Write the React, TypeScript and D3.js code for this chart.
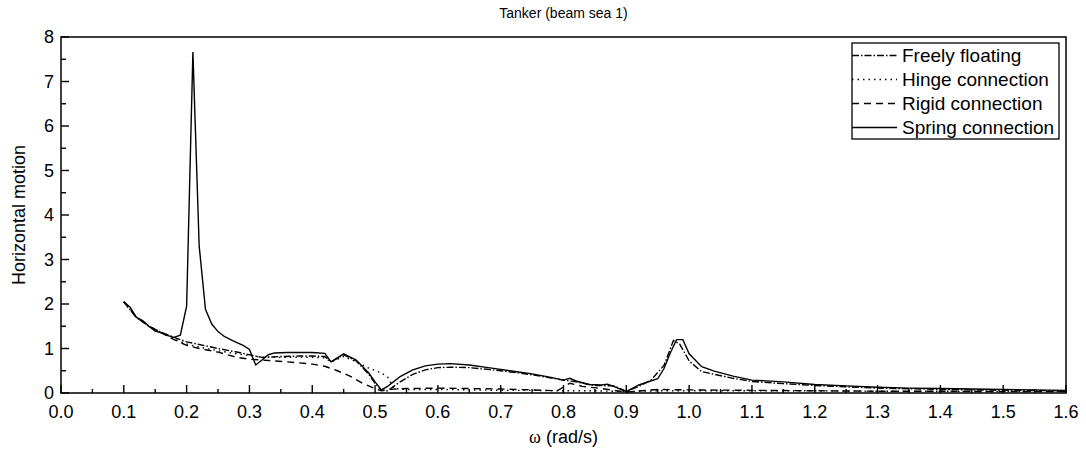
import React, { useRef, useEffect } from "react";
import * as d3 from "d3";

// Tanker (beam sea 1) - horizontal motion RAO
const freeW = [0.1, 0.12, 0.14, 0.16, 0.18, 0.2, 0.22, 0.25, 0.28, 0.3, 0.32, 0.35, 0.38, 0.4, 0.42, 0.43, 0.45, 0.47, 0.49, 0.5, 0.51, 0.52, 0.54, 0.56, 0.58, 0.6, 0.62, 0.65, 0.68, 0.7, 0.75, 0.8, 0.82, 0.85, 0.88, 0.9, 0.92, 0.94, 0.96, 0.975, 0.985, 1.0, 1.02, 1.04, 1.07, 1.1, 1.15, 1.2, 1.3, 1.4, 1.5, 1.6];
const freeV = [2.05, 1.7, 1.5, 1.36, 1.25, 1.15, 1.09, 1.0, 0.92, 0.86, 0.8, 0.82, 0.83, 0.83, 0.82, 0.7, 0.86, 0.72, 0.42, 0.22, 0.06, 0.05, 0.25, 0.42, 0.52, 0.57, 0.58, 0.57, 0.53, 0.5, 0.41, 0.29, 0.25, 0.17, 0.16, 0.04, 0.15, 0.3, 0.62, 1.18, 1.1, 0.72, 0.48, 0.42, 0.33, 0.26, 0.21, 0.17, 0.11, 0.08, 0.06, 0.05];

const hingeW = [0.1, 0.12, 0.14, 0.16, 0.18, 0.2, 0.22, 0.25, 0.28, 0.3, 0.32, 0.35, 0.38, 0.4, 0.42, 0.43, 0.45, 0.47, 0.49, 0.51, 0.52, 0.53, 0.55, 0.6, 0.65, 0.7, 0.75, 0.8, 0.85, 0.9, 0.95, 1.0, 1.1, 1.2, 1.3, 1.4, 1.5, 1.6];
const hingeV = [2.05, 1.7, 1.5, 1.36, 1.22, 1.1, 1.03, 0.95, 0.88, 0.84, 0.8, 0.8, 0.8, 0.8, 0.79, 0.7, 0.82, 0.7, 0.56, 0.45, 0.36, 0.1, 0.08, 0.08, 0.07, 0.06, 0.06, 0.05, 0.05, 0.03, 0.05, 0.05, 0.05, 0.05, 0.04, 0.04, 0.03, 0.03];

const rigidW = [0.1, 0.12, 0.14, 0.16, 0.18, 0.2, 0.22, 0.25, 0.28, 0.3, 0.33, 0.36, 0.4, 0.42, 0.44, 0.46, 0.48, 0.5, 0.51, 0.52, 0.55, 0.6, 0.65, 0.7, 0.75, 0.79, 0.81, 0.83, 0.86, 0.9, 0.95, 1.0, 1.1, 1.2, 1.3, 1.4, 1.5, 1.6];
const rigidV = [2.05, 1.7, 1.5, 1.35, 1.2, 1.07, 1.0, 0.92, 0.8, 0.76, 0.73, 0.7, 0.65, 0.6, 0.5, 0.38, 0.22, 0.1, 0.05, 0.08, 0.1, 0.11, 0.1, 0.09, 0.07, 0.05, 0.22, 0.15, 0.1, 0.02, 0.08, 0.07, 0.06, 0.05, 0.04, 0.04, 0.03, 0.03];

const springW = [0.1, 0.11, 0.12, 0.13, 0.14, 0.15, 0.16, 0.17, 0.18, 0.19, 0.2, 0.21, 0.22, 0.23, 0.24, 0.25, 0.26, 0.27, 0.28, 0.29, 0.3, 0.31, 0.32, 0.33, 0.34, 0.36, 0.38, 0.4, 0.42, 0.43, 0.45, 0.47, 0.49, 0.5, 0.51, 0.52, 0.54, 0.56, 0.58, 0.6, 0.62, 0.65, 0.68, 0.7, 0.72, 0.75, 0.78, 0.8, 0.81, 0.82, 0.84, 0.86, 0.87, 0.88, 0.9, 0.92, 0.95, 0.96, 0.97, 0.98, 0.99, 1.0, 1.02, 1.04, 1.07, 1.1, 1.15, 1.2, 1.25, 1.3, 1.35, 1.4, 1.45, 1.5, 1.55, 1.6];
const springV = [2.05, 1.93, 1.7, 1.63, 1.5, 1.39, 1.35, 1.29, 1.25, 1.3, 1.95, 7.66, 3.3, 1.88, 1.55, 1.38, 1.27, 1.2, 1.13, 1.07, 0.98, 0.63, 0.74, 0.86, 0.9, 0.91, 0.91, 0.91, 0.89, 0.7, 0.88, 0.74, 0.45, 0.25, 0.07, 0.15, 0.37, 0.52, 0.61, 0.65, 0.66, 0.63, 0.57, 0.53, 0.49, 0.43, 0.35, 0.29, 0.33, 0.27, 0.19, 0.18, 0.2, 0.15, 0.03, 0.18, 0.32, 0.55, 0.9, 1.2, 1.2, 0.88, 0.59, 0.49, 0.38, 0.29, 0.25, 0.19, 0.16, 0.13, 0.11, 0.1, 0.09, 0.08, 0.07, 0.06];

const seriesNames = ["Freely floating", "Hinge connection", "Rigid connection", "Spring connection"];
const seriesDash = ["7,2,1.5,2", "1.5,4", "7,5", ""];
const xTicks = d3.range(0, 1.6001, 0.1);
const xMinorTicks = d3.range(0.05, 1.6, 0.1);
const yTicks = d3.range(0, 9, 1);
const yMinorTicks = d3.range(0.5, 8, 1);

const FONT = "'Liberation Sans', Arial, sans-serif";

const App: React.FC = () => {
  const svgRef = useRef<SVGSVGElement | null>(null);
  const width = 1086;
  const height = 452;

  useEffect(() => {
    document.body.style.margin = "0";
    const svg = d3.select(svgRef.current);
    svg.selectAll("*").remove();

    const margin = { top: 37, right: 20, bottom: 59, left: 61 };
    const innerWidth = width - margin.left - margin.right;
    const innerHeight = height - margin.top - margin.bottom;

    const xScale = d3.scaleLinear().domain([0, 1.6]).range([0, innerWidth]);
    const yScale = d3.scaleLinear().domain([0, 8]).range([innerHeight, 0]);

    const g = svg
      .append("g")
      .attr("transform", `translate(${margin.left},${margin.top})`);

    // curves
    const data = [
      d3.zip(freeW, freeV),
      d3.zip(hingeW, hingeV),
      d3.zip(rigidW, rigidV),
      d3.zip(springW, springV),
    ];
    const line = d3
      .line<number[]>()
      .x((d) => xScale(d[0]))
      .y((d) => yScale(d[1]));

    data.forEach((pts, i) => {
      g.append("path")
        .datum(pts)
        .attr("fill", "none")
        .attr("stroke", "#000")
        .attr("stroke-width", 1.4)
        .attr("stroke-dasharray", seriesDash[i] || null)
        .attr("d", line);
    });

    // frame
    g.append("rect")
      .attr("width", innerWidth)
      .attr("height", innerHeight)
      .attr("fill", "none")
      .attr("stroke", "#000")
      .attr("stroke-width", 1.5);

    // x ticks (inward)
    xTicks.forEach((t) => {
      g.append("line")
        .attr("x1", xScale(t))
        .attr("x2", xScale(t))
        .attr("y1", innerHeight)
        .attr("y2", innerHeight - 8)
        .attr("stroke", "#000")
        .attr("stroke-width", 1.4);
      g.append("text")
        .attr("x", xScale(t))
        .attr("y", innerHeight + 25)
        .attr("text-anchor", "middle")
        .attr("font-family", FONT)
        .attr("font-size", 18)
        .text(d3.format(".1f")(t));
    });
    xMinorTicks.forEach((t) => {
      g.append("line")
        .attr("x1", xScale(t))
        .attr("x2", xScale(t))
        .attr("y1", innerHeight)
        .attr("y2", innerHeight - 4)
        .attr("stroke", "#000")
        .attr("stroke-width", 1.4);
    });

    // y ticks (inward)
    yTicks.forEach((t) => {
      g.append("line")
        .attr("x1", 0)
        .attr("x2", 8)
        .attr("y1", yScale(t))
        .attr("y2", yScale(t))
        .attr("stroke", "#000")
        .attr("stroke-width", 1.4);
      g.append("text")
        .attr("x", -7)
        .attr("y", yScale(t))
        .attr("dy", "0.36em")
        .attr("text-anchor", "end")
        .attr("font-family", FONT)
        .attr("font-size", 18)
        .text(String(t));
    });
    yMinorTicks.forEach((t) => {
      g.append("line")
        .attr("x1", 0)
        .attr("x2", 5)
        .attr("y1", yScale(t))
        .attr("y2", yScale(t))
        .attr("stroke", "#000")
        .attr("stroke-width", 1.4);
    });

    // legend
    const lg = svg.append("g").attr("transform", "translate(852,43)");
    lg.append("rect")
      .attr("width", 207)
      .attr("height", 96)
      .attr("fill", "#fff")
      .attr("stroke", "#000")
      .attr("stroke-width", 1.3);
    seriesNames.forEach((name, i) => {
      const y = 12.5 + i * 24;
      lg.append("line")
        .attr("x1", 0)
        .attr("x2", 45)
        .attr("y1", y)
        .attr("y2", y)
        .attr("stroke", "#000")
        .attr("stroke-width", 1.4)
        .attr("stroke-dasharray", seriesDash[i] || null);
      lg.append("text")
        .attr("x", 50)
        .attr("y", y)
        .attr("dy", "0.36em")
        .attr("font-family", FONT)
        .attr("font-size", 19)
        .text(name);
    });

    // title
    svg
      .append("text")
      .attr("x", margin.left + innerWidth / 2)
      .attr("y", 18)
      .attr("text-anchor", "middle")
      .attr("font-family", FONT)
      .attr("font-size", 14)
      .text("Tanker (beam sea 1)");

    // x label
    const xl = svg
      .append("text")
      .attr("x", margin.left + innerWidth / 2)
      .attr("y", 443)
      .attr("text-anchor", "middle")
      .attr("font-family", FONT)
      .attr("font-size", 18);
    xl.append("tspan").attr("font-family", "'Liberation Serif', serif").text("ω");
    xl.append("tspan").text(" (rad/s)");

    // y label
    svg
      .append("text")
      .attr("transform", `translate(25, ${margin.top + innerHeight / 2}) rotate(-90)`)
      .attr("text-anchor", "middle")
      .attr("font-family", FONT)
      .attr("font-size", 18)
      .text("Horizontal motion");
  }, []);

  return <svg ref={svgRef} width={width} height={height} style={{ display: "block" }}></svg>;
};

export default App;
